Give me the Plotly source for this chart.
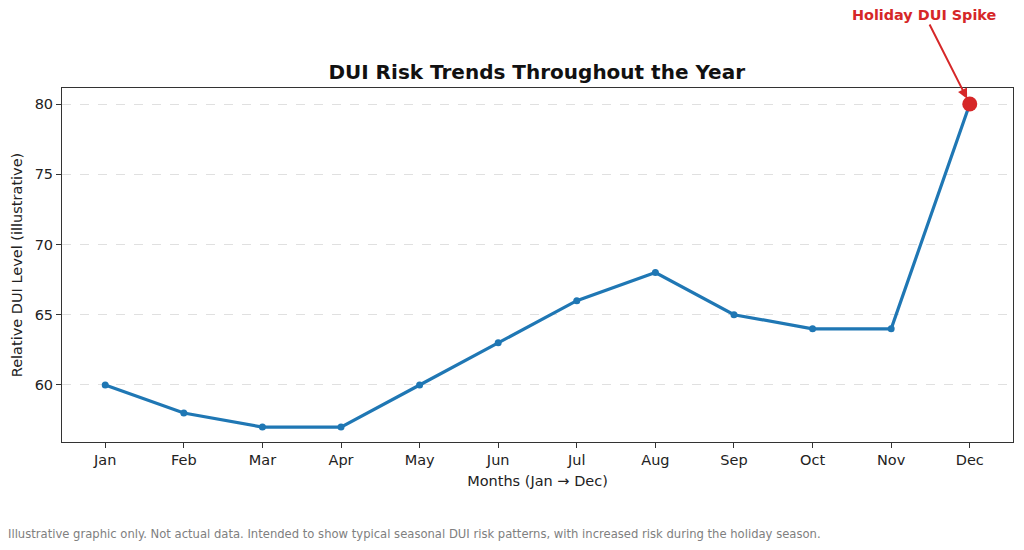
import plotly.graph_objects as go

# seasonal DUI risk (illustrative values)
months = ['Jan', 'Feb', 'Mar', 'Apr', 'May', 'Jun', 'Jul', 'Aug', 'Sep', 'Oct', 'Nov', 'Dec']
risk_level = [60, 58, 57, 57, 60, 63, 66, 68, 65, 64, 64, 80]
y_ticks = [60, 65, 70, 75, 80]
spike_month = 'Dec'
spike_value = 80

FONT = 'DejaVu Sans'
BLUE = '#1f77b4'
RED = '#d62728'

fig = go.Figure()
fig.add_trace(go.Scatter(x=list(range(len(months))), y=risk_level,
                         mode='lines+markers',
                         line=dict(color=BLUE, width=3.2),
                         marker=dict(color=BLUE, size=7),
                         showlegend=False))
# highlight the holiday spike
spike_idx = months.index(spike_month)
fig.add_trace(go.Scatter(x=[spike_idx], y=[spike_value], mode='markers',
                         marker=dict(color=RED, size=15),
                         showlegend=False, cliponaxis=False))

fig.add_annotation(x=spike_idx, y=spike_value, xref='x', yref='y',
                   text='<b>Holiday DUI Spike</b>',
                   font=dict(family=FONT, size=14.4, color=RED),
                   showarrow=True, arrowhead=2, arrowsize=1, arrowwidth=2,
                   arrowcolor=RED, ax=-45, ay=-89, standoff=6)

fig.add_annotation(x=0, y=0, xref='paper', yref='paper', xanchor='left', yanchor='middle',
                   text='Illustrative graphic only. Not actual data. Intended to show typical seasonal '
                        'DUI risk patterns, with increased risk during the holiday season.',
                   font=dict(family=FONT, size=11.6, color='#808080'),
                   showarrow=False, xshift=-56, yshift=-92)

# page adds an 8px body margin, so the figure is sized 16px smaller
fig.update_layout(
    width=1008, height=534,
    margin=dict(l=54, r=3, t=80, b=100),
    paper_bgcolor='white', plot_bgcolor='white',
    font=dict(family=FONT, size=14.5, color='#222222'),
    title=dict(text='<b>DUI Risk Trends Throughout the Year</b>',
               font=dict(family=FONT, size=20, color='#111111'),
               x=0.5245, xanchor='center', y=0.880, yanchor='middle'),
    xaxis=dict(tickmode='array', tickvals=list(range(len(months))), ticktext=months,
               range=[-0.55, 11.55], showgrid=False, zeroline=False,
               showline=True, linecolor='#333333', linewidth=1, mirror=True,
               ticks='outside', ticklen=5, tickcolor='#333333',
               title=dict(text='Months (Jan → Dec)', font=dict(size=14.5), standoff=8)),
    yaxis=dict(tickmode='array', tickvals=y_ticks, range=[55.94, 81.14],
               showgrid=True, gridcolor='#e0e0e0', griddash='dash', gridwidth=1,
               zeroline=False, showline=True, linecolor='#333333', linewidth=1, mirror=True,
               ticks='outside', ticklen=5, tickcolor='#333333',
               title=dict(text='Relative DUI Level (illustrative)', font=dict(size=14.5), standoff=8)),
)

fig.write_html('out.html')
